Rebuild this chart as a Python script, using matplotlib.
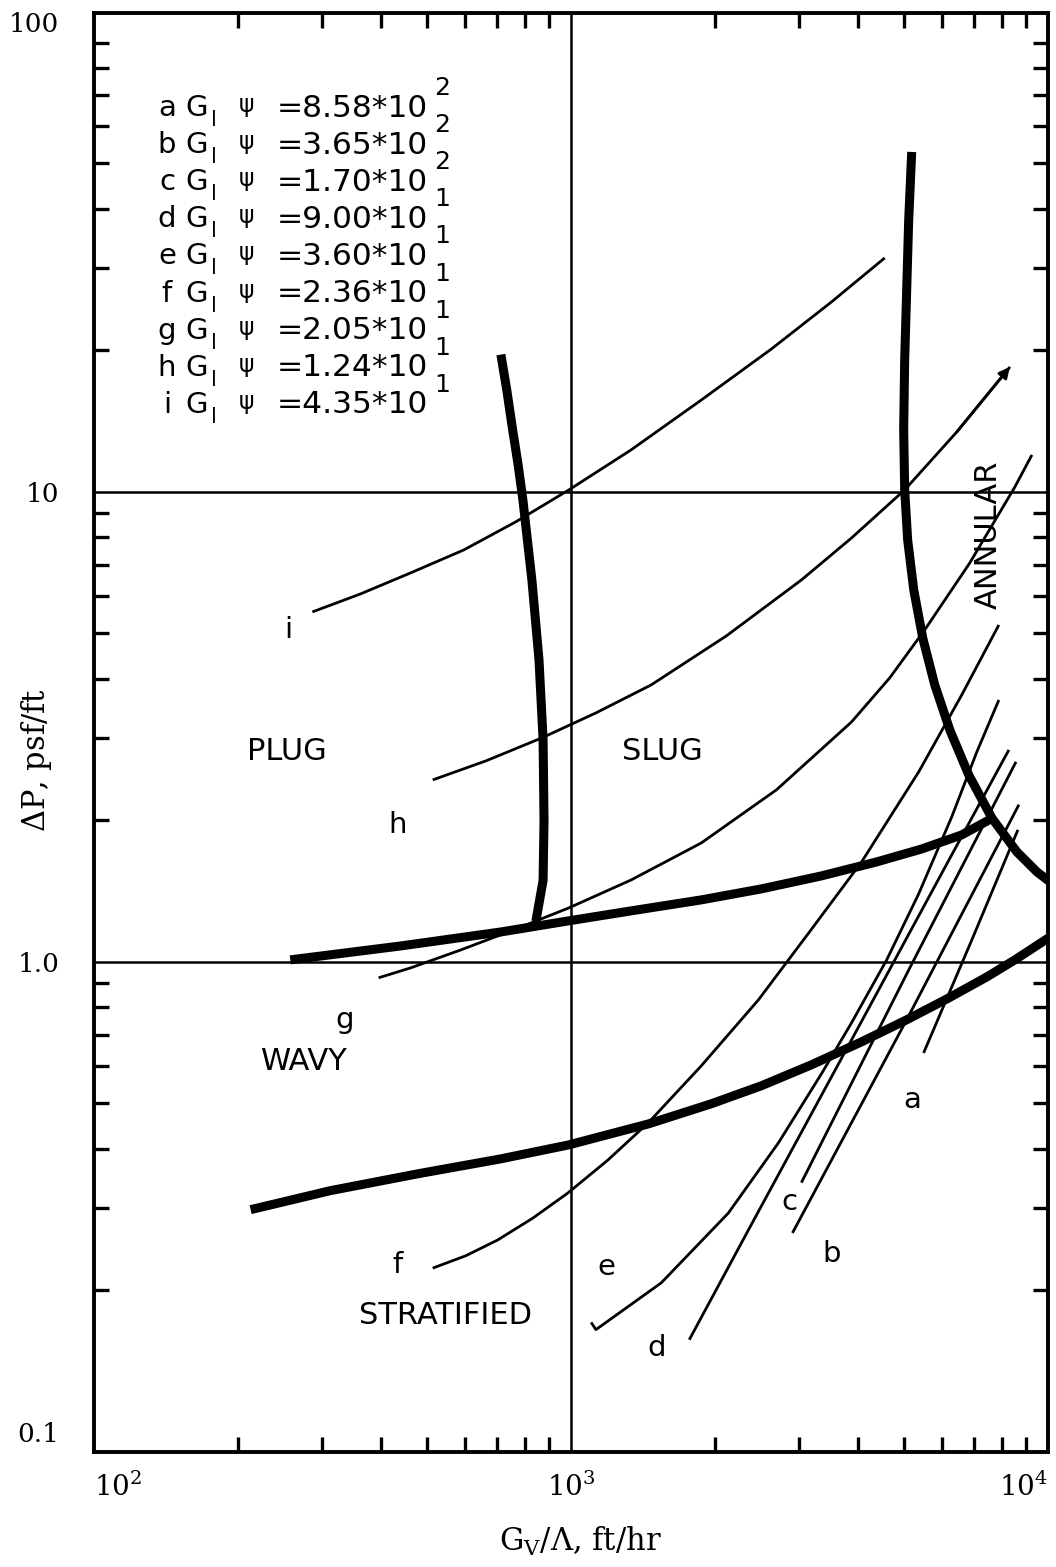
import matplotlib

matplotlib.use("Agg")

import matplotlib.pyplot as plt
from matplotlib.ticker import LogLocator, NullFormatter

plt.rcParams["font.family"] = "DejaVu Serif"
plt.rcParams["mathtext.fontset"] = "dejavuserif"

# regime boundaries (thick lines), G_v/Lambda in ft/hr vs dP in psf/ft
plug_x = [713, 734, 755, 775, 793, 828, 857, 874, 878, 874, 844]
plug_y = [19.6, 16.4, 13.5, 11.4, 9.6, 6.5, 4.39, 2.97, 2.0, 1.49, 1.22]

slug_x = [258, 439, 713, 990, 1337, 1876, 2507, 3351, 4373, 5437, 6595, 7627]
slug_y = [1.010, 1.081, 1.158, 1.223, 1.284, 1.355, 1.430, 1.524, 1.632, 1.739, 1.863, 2.02]

annular_x = [5180, 5105, 5056, 5007, 4983, 5007, 5080, 5231, 5463, 5789, 6226,
             6823, 7627, 8607, 9482, 10097]
annular_y = [52.9, 37.9, 26.9, 19.1, 13.55, 10.1, 7.90, 6.19, 4.89, 3.885, 3.116,
             2.498, 2.024, 1.714, 1.554, 1.480]

strat_x = [213, 313, 477, 713, 990, 1452, 1969, 2507, 3193, 4067, 5056, 6194,
           7444, 8524, 10097]
strat_y = [0.297, 0.326, 0.354, 0.381, 0.408, 0.452, 0.499, 0.545, 0.604, 0.676,
           0.753, 0.838, 0.929, 1.010, 1.130]

# constant G_l*psi curves (thin lines)
a_x = [5486, 6925, 8650]
a_y = [0.64, 1.114, 1.91]
b_x = [2913, 5055, 8690]
b_y = [0.265, 0.753, 2.16]
c_x = [3041, 5105, 8570]
c_y = [0.339, 0.961, 2.665]
d_x = [1770, 2388, 3873, 6285, 8279]
d_y = [0.157, 0.276, 0.682, 1.69, 2.825]
e_x = [1102, 1128, 1546, 2137, 2722, 3351, 3874, 4591, 5358, 6284, 7093, 7889]
e_y = [0.171, 0.165, 0.2075, 0.292, 0.412, 0.578, 0.742, 1.010, 1.396, 2.035, 2.798, 3.608]
f_x = [513, 602, 702, 832, 986, 1196, 1452, 1876, 2471, 3162, 4067, 5358, 6595, 7889]
f_y = [0.223, 0.237, 0.256, 0.285, 0.3225, 0.379, 0.4545, 0.601, 0.830, 1.158,
       1.632, 2.537, 3.699, 5.212]
g_x = [395, 461, 587, 759, 990, 1337, 1876, 2696, 3874, 4658, 5515, 6856, 8524, 9255]
g_y = [0.925, 0.971, 1.060, 1.170, 1.303, 1.494, 1.791, 2.323, 3.240, 4.021, 5.086,
       7.062, 10.25, 11.99]
h_x = [513, 663, 869, 1128, 1473, 2117, 3042, 3874, 5007, 6440, 8322]
h_y = [2.439, 2.677, 2.997, 3.387, 3.885, 4.939, 6.498, 7.981, 10.1, 13.42, 18.45]
i_x = [287, 362, 461, 596, 766, 990, 1337, 1876, 2632, 3517, 4547]
i_y = [5.555, 6.067, 6.725, 7.526, 8.636, 10.1, 12.29, 15.69, 20.15, 25.37, 31.47]

legend_letters = ["a", "b", "c", "d", "e", "f", "g", "h", "i"]
legend_mantissa = ["8.58", "3.65", "1.70", "9.00", "3.60", "2.36", "2.05", "1.24", "4.35"]
legend_exponent = ["2", "2", "2", "1", "1", "1", "1", "1", "1"]

grid_x = [1e3]
grid_y = [1.0, 10.0]

x_ticks = [1e2, 1e3, 1e4]
x_ticklabels = [r"$\mathregular{10^2}$", r"$\mathregular{10^3}$", r"$\mathregular{10^4}$"]
y_ticks = [0.1, 1.0, 10.0, 100.0]
y_ticklabels = ["0.1", "1.0", "10", "100"]

fig = plt.figure(figsize=(10.56, 15.67), dpi=100)
ax = fig.add_axes([0.0890, 0.0734, 0.9034, 0.9183])
ax.set_xscale("log")
ax.set_yscale("log")
ax.set_xlim(100, 1e4)
ax.set_ylim(0.0906, 104.5)

for gx in grid_x:
    ax.axvline(gx, color="black", lw=1.8)
for gy in grid_y:
    ax.axhline(gy, color="black", lw=1.8)

thin = [(a_x, a_y), (b_x, b_y), (c_x, c_y), (d_x, d_y), (e_x, e_y),
        (f_x, f_y), (g_x, g_y), (h_x, h_y), (i_x, i_y)]
for xs, ys in thin:
    ax.plot(xs, ys, color="black", lw=2.0, solid_capstyle="butt",
            solid_joinstyle="round")

ax.annotate("", xy=(h_x[-1], h_y[-1]), xytext=(h_x[-2], h_y[-2]),
            arrowprops=dict(arrowstyle="-|>", color="black", lw=2.0,
                            mutation_scale=16, shrinkA=0, shrinkB=0))

thick = [(plug_x, plug_y), (slug_x, slug_y), (annular_x, annular_y), (strat_x, strat_y)]
for xs, ys in thick:
    ax.plot(xs, ys, color="black", lw=6.5, solid_capstyle="butt", solid_joinstyle="round")

# axes, ticks
for sp in ax.spines.values():
    sp.set_linewidth(2.8)
ax.set_xticks(x_ticks)
ax.set_xticklabels(x_ticklabels, fontsize=20)
ax.set_yticks(y_ticks)
ax.set_yticklabels(y_ticklabels, fontsize=19)
for axis in (ax.xaxis, ax.yaxis):
    axis.set_minor_locator(LogLocator(base=10, subs=range(2, 10), numticks=20))
    axis.set_minor_formatter(NullFormatter())
ax.tick_params(which="minor", direction="in", length=11, width=2.4,
               top=True, right=True)
ax.tick_params(which="major", length=0)
ax.tick_params(axis="x", which="major", pad=15)
ax.tick_params(axis="y", which="major", pad=25)
xl = ax.get_xticklabels()
xl[0].set_ha("left")
xl[2].set_ha("right")


def ref(px, py):
    # position in the reference picture -> axes fraction
    return (px - 94) / 954, (1452 - py) / 1439


def label(px, py, s, size, **kw):
    fx, fy = ref(px, py)
    kw.setdefault("ha", "center")
    kw.setdefault("va", "center")
    ax.text(fx, fy, s, fontsize=size, family="DejaVu Sans",
            transform=ax.transAxes, **kw)


# regime names
label(287, 752, "PLUG", 22)
label(662, 752, "SLUG", 22)
label(304, 1062, "WAVY", 22)
label(446, 1316, "STRATIFIED", 22)
label(988, 535, "ANNULAR", 22, rotation=90)

# curve letters
curve_label_pos = {"a": (912, 1100), "b": (832, 1254), "c": (789, 1202),
                   "d": (657, 1348), "e": (606, 1267), "f": (398, 1265),
                   "g": (345, 1020), "h": (398, 825), "i": (288, 630)}
for lab, (px, py) in curve_label_pos.items():
    label(px, py, lab, 21)

# key
for k, (lab, mant, ex) in enumerate(zip(legend_letters, legend_mantissa, legend_exponent)):
    py = 108 + 37.1 * k
    label(167, py, lab, 21)
    label(197, py, "G", 21)
    label(214, py + 12, "l", 15)
    label(247, py - 3, "\u03c8", 17)
    label(277, py, "=" + mant + "*10", 22.5, ha="left")
    label(434, py - 20, ex, 18, ha="left")

fig.text(580 / 1056, 1 - 1541 / 1567, r"$\mathregular{G_V/\Lambda}$, ft/hr",
         ha="center", va="center", fontsize=22)
fig.text(36 / 1056, 1 - 760 / 1567, r"$\mathregular{\Delta}$P, psf/ft",
         ha="center", va="center", fontsize=22, rotation=90)

fig.savefig("out.png", dpi=100)
plt.close(fig)
